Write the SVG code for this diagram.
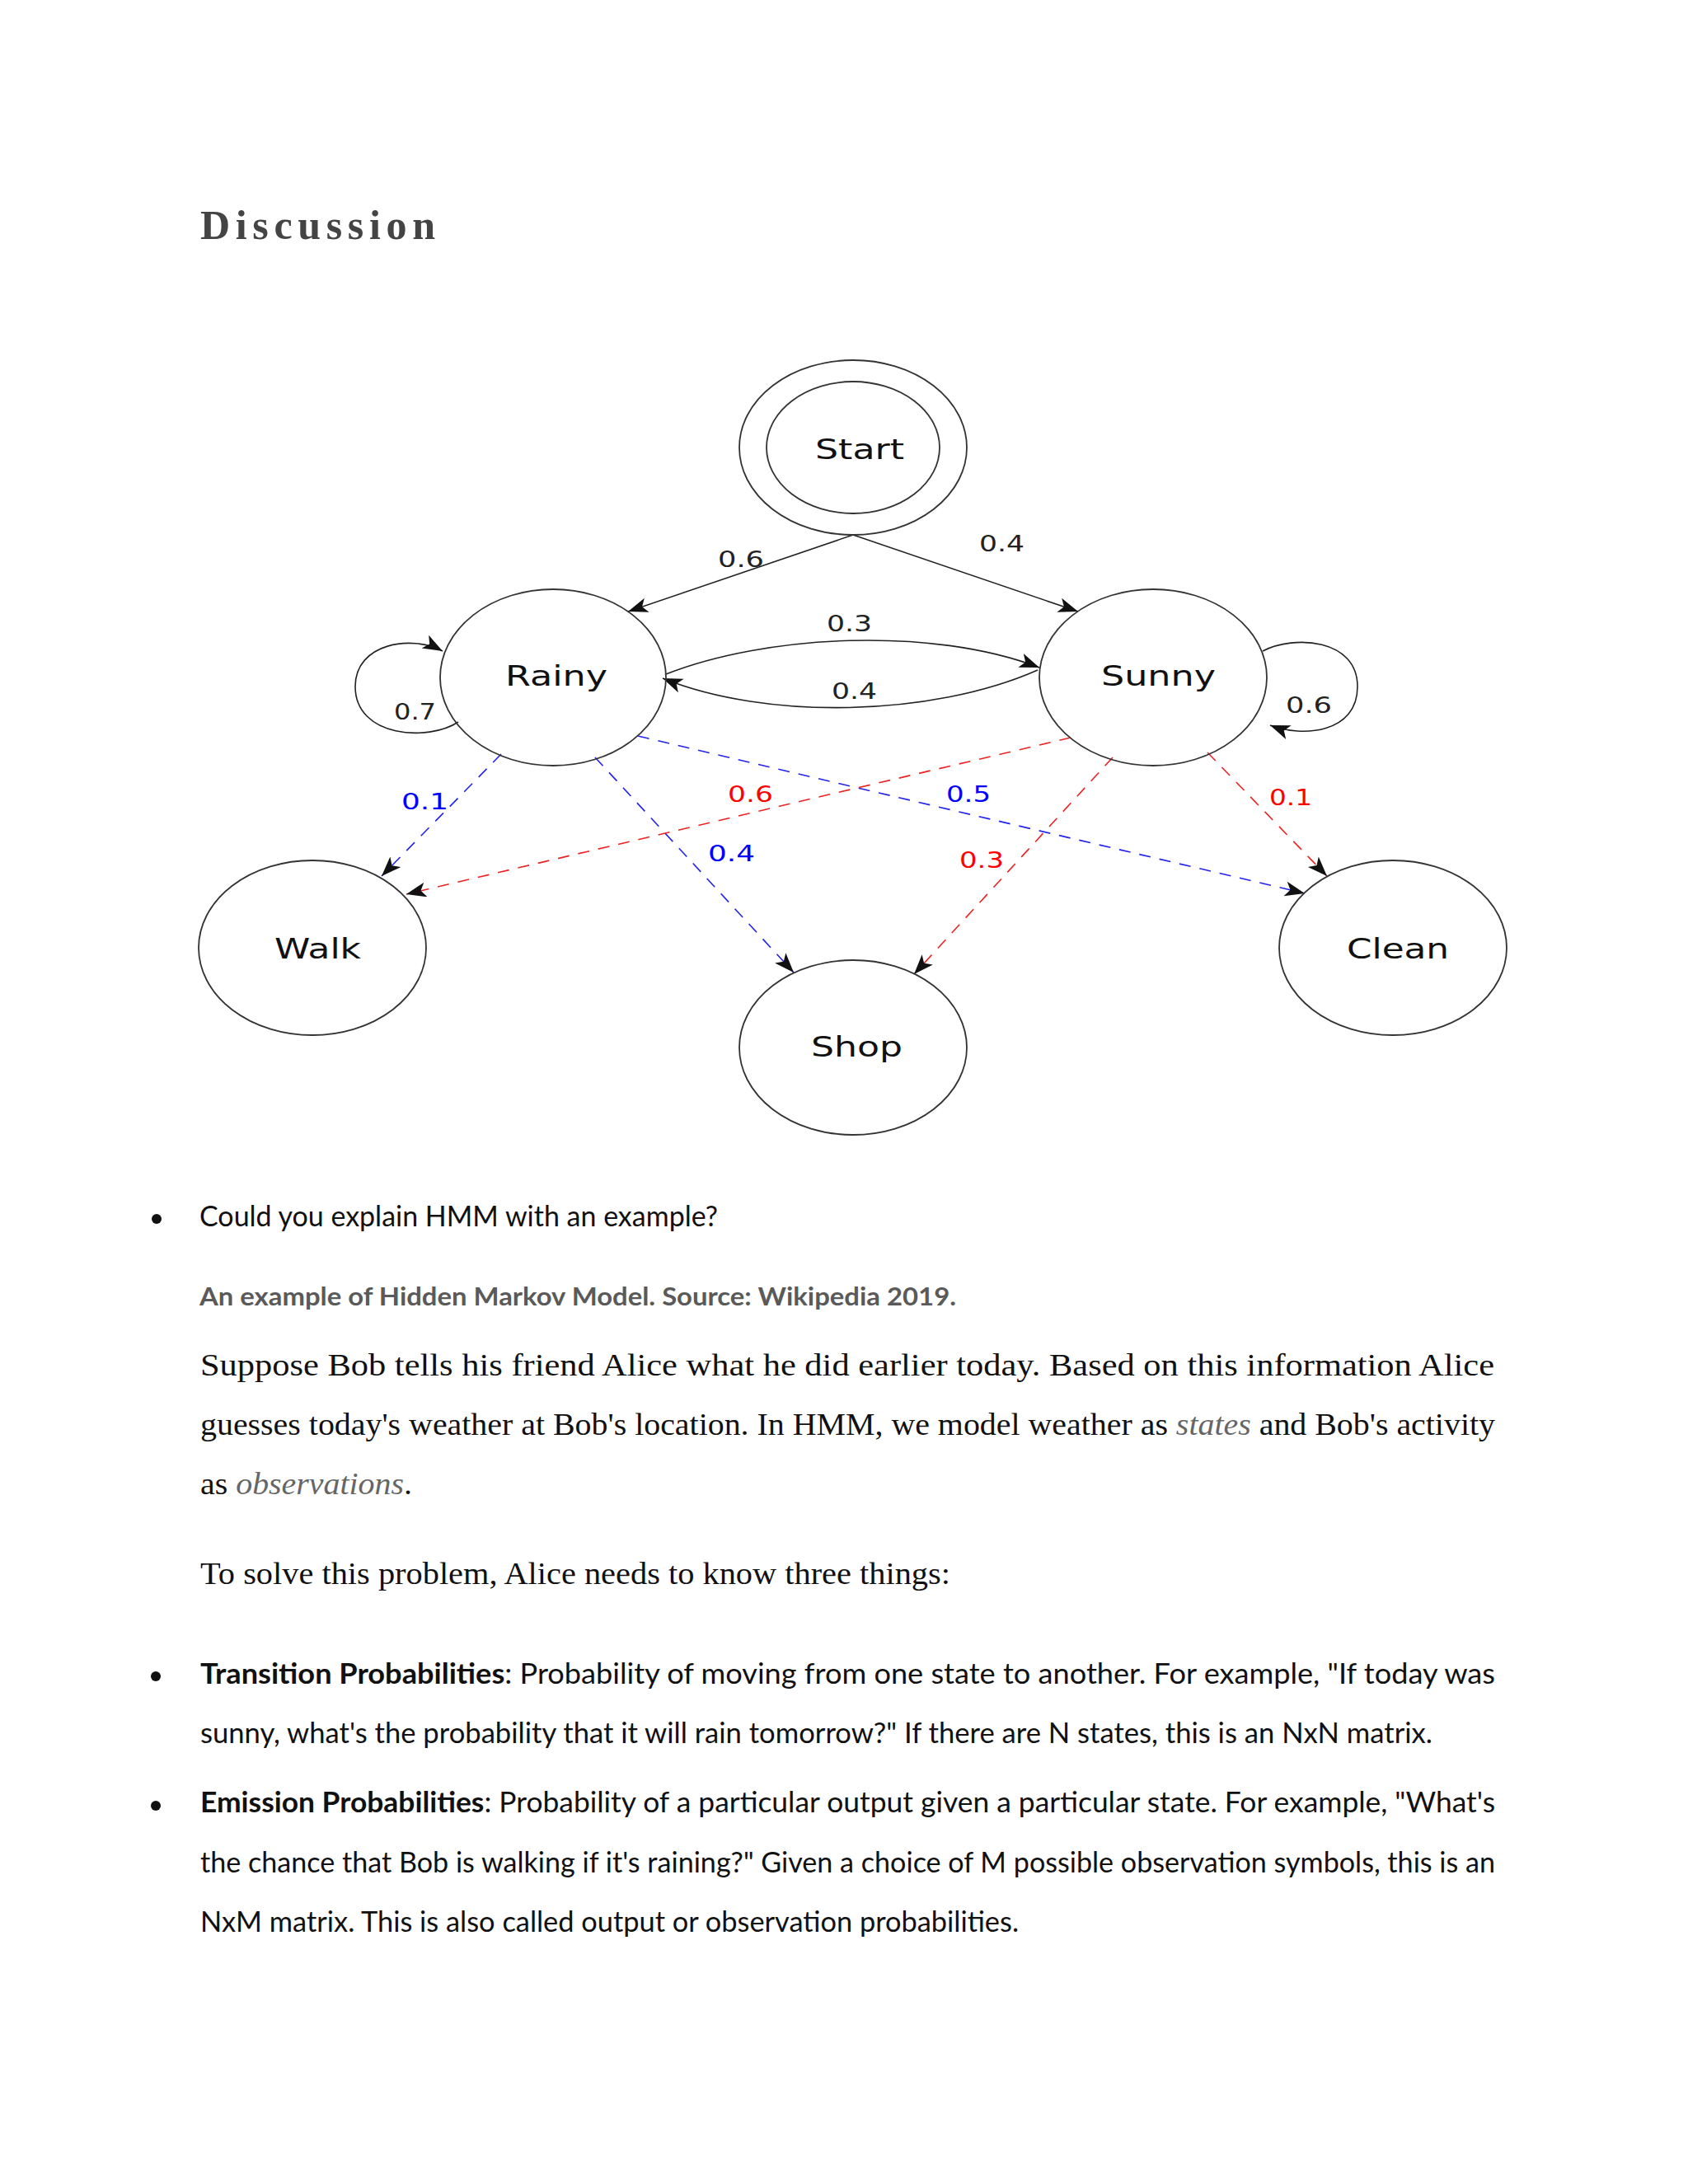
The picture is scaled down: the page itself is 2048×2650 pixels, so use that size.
<svg xmlns="http://www.w3.org/2000/svg" width="2048" height="2650" viewBox="0 0 2048 2650">
<defs>
<style>
.node{fill:none;stroke:#333;stroke-width:1.8}
.nt{font-family:"DejaVu Sans",sans-serif;font-size:34px;fill:#111}
.lb{font-family:"DejaVu Sans",sans-serif;font-size:27px}
.k{fill:#222}.b{fill:#0000ff}.r{fill:#ff0000}
.e{fill:none;stroke:#222;stroke-width:1.6}
.eb{fill:none;stroke:#2222ee;stroke-width:1.6;stroke-dasharray:14 11}
.er{fill:none;stroke:#ee2222;stroke-width:1.6;stroke-dasharray:14 11}
.body{font-family:Lato,"Open Sans",sans-serif;font-size:34px;fill:#111}
.serif{font-family:"Liberation Serif",serif;font-size:38px;fill:#111}
</style>
<marker id="ah" markerUnits="userSpaceOnUse" markerWidth="26" markerHeight="20" refX="24" refY="9" orient="auto">
<path d="M0,0 L24,9 L0,18 L6,9 z" fill="#111"/>
</marker>
</defs>
<rect width="2048" height="2650" fill="#fff"/>
<text x="243" y="290" font-family="Liberation Serif,serif" font-weight="bold" font-size="50" fill="#444" letter-spacing="5" textLength="290" lengthAdjust="spacing">Discussion</text>

<g id="connectors">
<path class="e" d="M1035,649 L762,742" marker-end="url(#ah)"/>
<path class="e" d="M1035,649 L1308,742" marker-end="url(#ah)"/>
<path class="e" d="M808,818 C930,770 1130,760 1261,810" marker-end="url(#ah)"/>
<path class="e" d="M1259,813 C1130,870 930,874 804,823" marker-end="url(#ah)"/>
<path class="e" d="M556,876 C520,900 431,895 431,833 C431,780 500,770 537,790" marker-end="url(#ah)"/>
<path class="e" d="M1532,790 C1570,770 1647,775 1647,833 C1647,890 1580,895 1541,880" marker-end="url(#ah)"/>
<path class="eb" d="M608,915 L463,1063" marker-end="url(#ah)"/>
<path class="eb" d="M722,919 L963,1180" marker-end="url(#ah)"/>
<path class="eb" d="M774,893 L1583,1084" marker-end="url(#ah)"/>
<path class="er" d="M1299,895 L493,1085" marker-end="url(#ah)"/>
<path class="er" d="M1350,919 L1109,1182" marker-end="url(#ah)"/>
<path class="er" d="M1465,913 L1610,1063" marker-end="url(#ah)"/>
<text class="lb k" x="871" y="688" textLength="56" lengthAdjust="spacingAndGlyphs">0.6</text>
<text class="lb k" x="1188" y="669" textLength="55" lengthAdjust="spacingAndGlyphs">0.4</text>
<text class="lb k" x="1003" y="766" textLength="55" lengthAdjust="spacingAndGlyphs">0.3</text>
<text class="lb k" x="1009" y="848" textLength="55" lengthAdjust="spacingAndGlyphs">0.4</text>
<text class="lb k" x="478" y="873" textLength="51" lengthAdjust="spacingAndGlyphs">0.7</text>
<text class="lb k" x="1560" y="865" textLength="56" lengthAdjust="spacingAndGlyphs">0.6</text>
<text class="lb b" x="487" y="982" textLength="57" lengthAdjust="spacingAndGlyphs">0.1</text>
<text class="lb b" x="859" y="1045" textLength="57" lengthAdjust="spacingAndGlyphs">0.4</text>
<text class="lb b" x="1148" y="973" textLength="54" lengthAdjust="spacingAndGlyphs">0.5</text>
<text class="lb r" x="883" y="973" textLength="55" lengthAdjust="spacingAndGlyphs">0.6</text>
<text class="lb r" x="1164" y="1053" textLength="54" lengthAdjust="spacingAndGlyphs">0.3</text>
<text class="lb r" x="1540" y="977" textLength="52" lengthAdjust="spacingAndGlyphs">0.1</text>
</g>

<g id="start">
<ellipse class="node" cx="1035" cy="543" rx="138" ry="106"/>
<ellipse class="node" cx="1035" cy="543" rx="105" ry="80"/>
<text class="nt" x="989" y="557" textLength="108" lengthAdjust="spacingAndGlyphs">Start</text>
</g>
<g id="rainy">
<ellipse class="node" cx="671" cy="822" rx="137" ry="107"/>
<text class="nt" x="613" y="832" textLength="124" lengthAdjust="spacingAndGlyphs">Rainy</text>
</g>
<g id="sunny">
<ellipse class="node" cx="1399" cy="822" rx="138" ry="107"/>
<text class="nt" x="1336" y="832" textLength="139" lengthAdjust="spacingAndGlyphs">Sunny</text>
</g>
<g id="walk">
<ellipse class="node" cx="379" cy="1150" rx="138" ry="106"/>
<text class="nt" x="333" y="1163" textLength="105" lengthAdjust="spacingAndGlyphs">Walk</text>
</g>
<g id="shop">
<ellipse class="node" cx="1035" cy="1271" rx="138" ry="106"/>
<text class="nt" x="984" y="1282" textLength="111" lengthAdjust="spacingAndGlyphs">Shop</text>
</g>
<g id="clean">
<ellipse class="node" cx="1690" cy="1150" rx="138" ry="106"/>
<text class="nt" x="1634" y="1163" textLength="124" lengthAdjust="spacingAndGlyphs">Clean</text>
</g>

<g id="text">
<circle cx="190" cy="1479" r="6" fill="#111"/>
<text class="body" x="242" y="1488" textLength="629" lengthAdjust="spacingAndGlyphs">Could you explain HMM with an example?</text>
<text x="242" y="1584" font-family="Lato,'Open Sans',sans-serif" font-weight="bold" font-size="31" fill="#5a5a5a" textLength="918" lengthAdjust="spacingAndGlyphs">An example of Hidden Markov Model. Source: Wikipedia 2019.</text>
<text class="serif" x="243" y="1669" textLength="1570" lengthAdjust="spacingAndGlyphs">Suppose Bob tells his friend Alice what he did earlier today. Based on this information Alice</text>
<text class="serif" x="243" y="1741" textLength="1571" lengthAdjust="spacingAndGlyphs">guesses today's weather at Bob's location. In HMM, we model weather as <tspan font-style="italic" fill="#666">states</tspan> and Bob's activity</text>
<text class="serif" x="243" y="1813" textLength="257" lengthAdjust="spacingAndGlyphs">as <tspan font-style="italic" fill="#666">observations</tspan>.</text>
<text class="serif" x="243" y="1922" textLength="910" lengthAdjust="spacingAndGlyphs">To solve this problem, Alice needs to know three things:</text>
<circle cx="189" cy="2034" r="6" fill="#111"/>
<text class="body" x="243" y="2043" textLength="1571" lengthAdjust="spacingAndGlyphs"><tspan font-weight="bold">Transition Probabilities</tspan>: Probability of moving from one state to another. For example, "If today was</text>
<text class="body" x="243" y="2115" textLength="1495" lengthAdjust="spacingAndGlyphs">sunny, what's the probability that it will rain tomorrow?" If there are N states, this is an NxN matrix.</text>
<circle cx="189" cy="2191" r="6" fill="#111"/>
<text class="body" x="243" y="2199" textLength="1571" lengthAdjust="spacingAndGlyphs"><tspan font-weight="bold">Emission Probabilities</tspan>: Probability of a particular output given a particular state. For example, "What's</text>
<text class="body" x="243" y="2272" textLength="1571" lengthAdjust="spacingAndGlyphs">the chance that Bob is walking if it's raining?" Given a choice of M possible observation symbols, this is an</text>
<text class="body" x="243" y="2344" textLength="993" lengthAdjust="spacingAndGlyphs">NxM matrix. This is also called output or observation probabilities.</text>
</g>
</svg>
